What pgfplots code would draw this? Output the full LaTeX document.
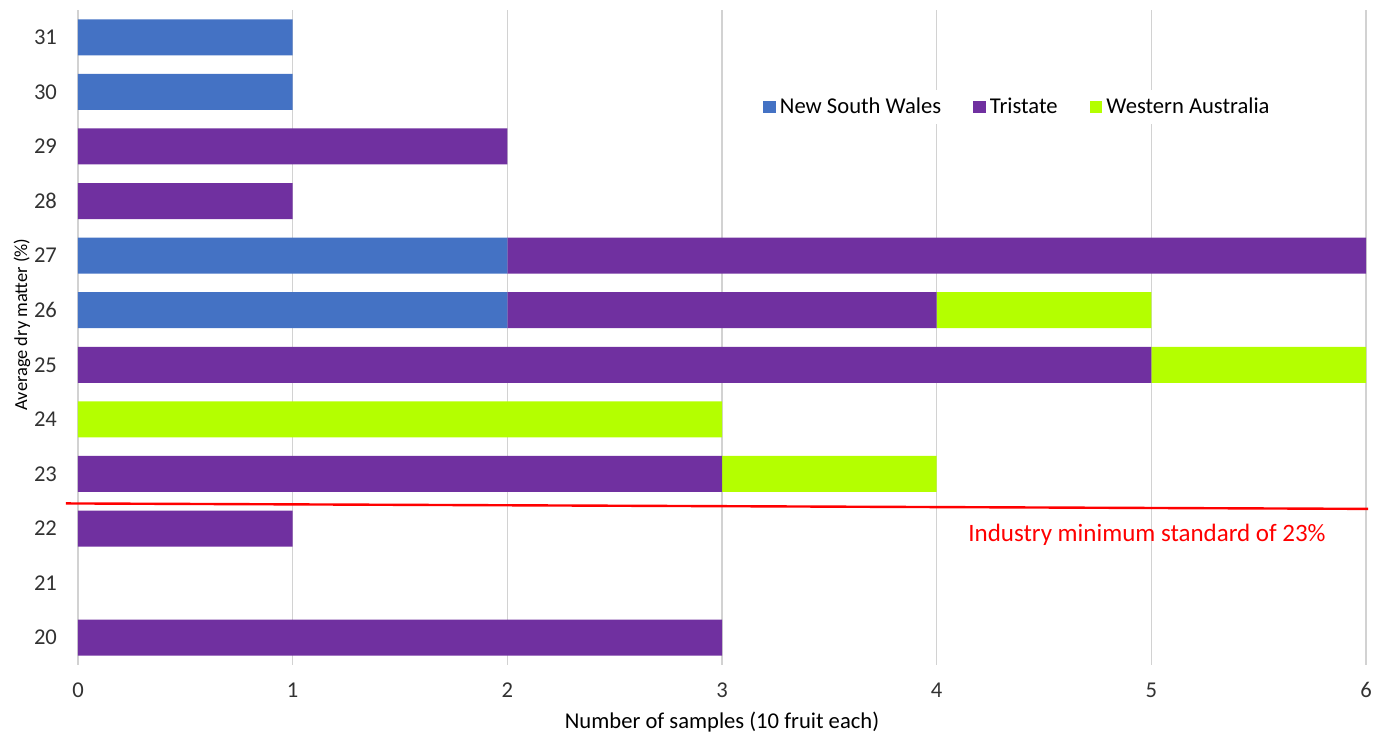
\documentclass[border=0pt]{standalone}
\usepackage{pgfplots}
\pgfplotsset{compat=1.18}
\usepackage{fontspec}
\setmainfont{Carlito}
\definecolor{nsw}{RGB}{68,114,196}
\definecolor{tri}{RGB}{112,48,160}
\definecolor{wa}{RGB}{180,255,0}
\definecolor{tick}{RGB}{50,50,50}
\begin{document}
\begin{tikzpicture}
\begin{axis}[
  name=ax,
  scale only axis,
  width=644pt, height=327.5pt,
  xbar stacked,
  bar width=18pt,
  xmin=0, xmax=6,
  ymin=19.5, ymax=31.5,
  ytick={20,...,31},
  xtick={0,...,6},
  axis line style={draw=none},
  major tick length=0pt,
  xmajorgrids, grid style={gray!35, line width=0.6pt},
  tick label style={font=\fontsize{11.3}{13}\selectfont, text=tick},
  /pgf/number format/assume math mode=true,
  yticklabel style={anchor=east, xshift=-7pt},
  xticklabel style={anchor=center, yshift=-12.5pt},
  xlabel={Number of samples (10 fruit each)},
  label style={font=\fontsize{11.3}{13}\selectfont},
  xlabel style={at={(0.5,0)}, anchor=center, yshift=-28.5pt},
  legend style={draw=none, font=\fontsize{11.3}{13}\selectfont, legend columns=-1,
    at={(0.527,0.852)}, anchor=west, /tikz/every even column/.append style={column sep=14pt}},
  legend image code/.code={\fill[#1] (0pt,-3.2pt) rectangle (6.4pt,3.2pt);},
  clip=false,
]
\addplot[fill=nsw, draw=none] coordinates {(0,20) (0,21) (0,22) (0,23) (0,24) (0,25) (2,26) (2,27) (0,28) (0,29) (1,30) (1,31)};
\addplot[fill=tri, draw=none] coordinates {(3,20) (0,21) (1,22) (3,23) (0,24) (5,25) (2,26) (4,27) (1,28) (2,29) (0,30) (0,31)};
\addplot[fill=wa, draw=none] coordinates {(0,20) (0,21) (0,22) (1,23) (3,24) (1,25) (1,26) (0,27) (0,28) (0,29) (0,30) (0,31)};
\legend{New South Wales, Tristate, Western Australia}
\draw[red, line width=1.2pt] (axis cs:-0.056,22.46) -- (axis cs:6.01,22.36);
\node[text=red, font=\fontsize{12.5}{14}\selectfont] at (axis cs:4.98,21.88) {Industry minimum standard of 23\%};
\end{axis}
\node[rotate=90, anchor=center, font=\fontsize{9.2}{12}\selectfont] at ([shift={(-28pt,6.5pt)}]ax.west) {Average dry matter (\%)};
\pgfresetboundingbox
\path ([shift={(-39pt,-36pt)}]ax.south west) rectangle ([shift={(9pt,5pt)}]ax.north east);
\end{tikzpicture}
\end{document}
